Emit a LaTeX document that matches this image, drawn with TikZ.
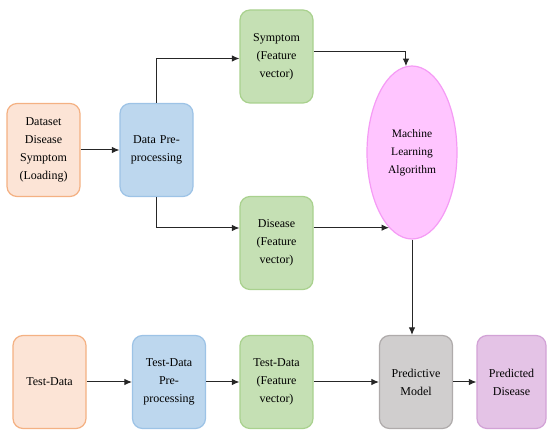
\documentclass[tikz,border=0pt]{standalone}
\usepackage{fontspec}
\setmainfont{Liberation Serif}
\usetikzlibrary{shapes.geometric,arrows.meta}
\definecolor{orfill}{HTML}{FCE4D6}\definecolor{ordraw}{HTML}{F4B183}
\definecolor{blfill}{HTML}{BDD7EE}\definecolor{bldraw}{HTML}{9DC3E6}
\definecolor{grfill}{HTML}{C5E0B4}\definecolor{grdraw}{HTML}{A9D18E}
\definecolor{pkfill}{HTML}{FFC5FF}\definecolor{pkdraw}{HTML}{F59BF5}
\definecolor{gyfill}{HTML}{D0CECE}\definecolor{gydraw}{HTML}{AFABAB}
\definecolor{pufill}{HTML}{E4C3E6}\definecolor{pudraw}{HTML}{D2A2D6}
\tikzset{
  box/.style={rectangle,rounded corners=10pt,minimum width=73pt,minimum height=93pt,inner sep=0pt,
    text width=70pt,align=center,font=\fontsize{12}{18}\selectfont,line width=1.2pt},
  orbox/.style={box,fill=orfill,draw=ordraw},
  blbox/.style={box,fill=blfill,draw=bldraw},
  grbox/.style={box,fill=grfill,draw=grdraw},
  gybox/.style={box,fill=gyfill,draw=gydraw},
  pubox/.style={box,fill=pufill,draw=pudraw,minimum width=69pt,text width=66pt},
  arr/.style={-{Latex[length=7.5pt,width=6.5pt]},line width=1pt,black!85},
}
\begin{document}
\begin{tikzpicture}[x=1pt,y=-1pt]
\useasboundingbox (0,0) rectangle (547,430);
\node[orbox] (ds) at (43.5,150) {Dataset\\Disease\\Symptom\\(Loading)};
\node[blbox] (dp) at (156.5,150) {Data Pre-\\processing};
\node[grbox] (sym) at (276.5,56.5) {Symptom\\(Feature\\vector)};
\node[grbox] (dis) at (276.5,243) {Disease\\(Feature\\vector)};
\node[ellipse,fill=pkfill,draw=pkdraw,line width=1.2pt,minimum width=90pt,minimum height=173pt,inner sep=0pt,
  align=center,font=\fontsize{11.5}{18}\selectfont] (ml) at (412,152.5) {Machine\\Learning\\Algorithm};
\node[orbox] (td) at (49.5,382) {Test-Data};
\node[blbox] (tdp) at (169,382) {Test-Data\\Pre-\\processing};
\node[grbox] (tdf) at (276.5,382) {Test-Data\\(Feature\\vector)};
\node[gybox] (pm) at (416,382) {Predictive\\Model};
\node[pubox] (pd) at (511.5,382) {Predicted\\Disease};
\draw[arr] (ds) -- (dp);
\draw[arr] (dp.north) |- ([yshift=-2pt]sym.west);
\draw[arr] (dp.south) |- ([yshift=15pt]dis.west);
\draw[arr] ([yshift=5pt]sym.east) -| (ml.94.7);
\draw[arr] (dis.east |- ml.253.8) -- (ml.253.8);
\draw[arr] (ml.south) -- (ml.south |- pm.north);
\draw[arr] (td) -- (tdp);
\draw[arr] (tdp) -- (tdf);
\draw[arr] (tdf) -- (pm);
\draw[arr] (pm) -- (pd);
\end{tikzpicture}
\end{document}
